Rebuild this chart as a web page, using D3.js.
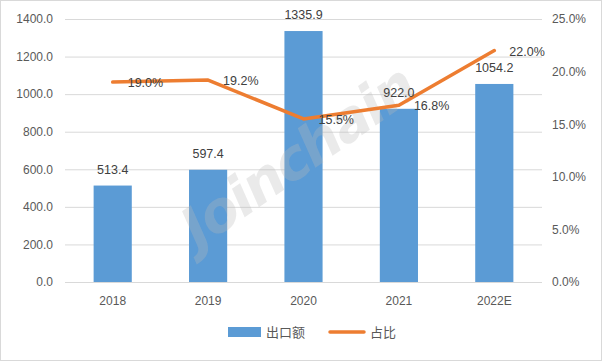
<!DOCTYPE html>
<html><head><meta charset="utf-8">
<script src="https://cdn.jsdelivr.net/npm/d3@7"></script>
<style>body{margin:0;background:#fff}svg{display:block}</style>
</head><body>
<script>
const categories = ["2018","2019","2020","2021","2022E"];
const exportValues = [513.4, 597.4, 1335.9, 922.0, 1054.2];
const shareValues = [19.0, 19.2, 15.5, 16.8, 22.0];
const leftTicks = [0,200,400,600,800,1000,1200,1400];
const rightTicks = [0,5,10,15,20,25];
const seriesNames = ["出口额","占比"];

const W=602,H=361;
const m={l:65,r:60,t:19,b:79};
const svg=d3.select("body").append("svg").attr("width",W).attr("height",H);
const font="'Liberation Sans', 'Noto Sans CJK SC', sans-serif";
svg.append("rect").attr("x",0.5).attr("y",0.5).attr("width",W-1).attr("height",H-1).attr("fill","#fff").attr("stroke","#D9D9D9");

const x=d3.scaleBand().domain(categories).range([m.l,W-m.r]).paddingInner(0.6).paddingOuter(0.3);
const y=d3.scaleLinear().domain([0,1400]).range([H-m.b,m.t]);
const y2=d3.scaleLinear().domain([0,25]).range([H-m.b,m.t]);

// gridlines
svg.append("g").selectAll("line").data(leftTicks).join("line")
  .attr("x1",m.l).attr("x2",W-m.r).attr("y1",d=>y(d)+0.5).attr("y2",d=>y(d)+0.5)
  .attr("stroke","#D9D9D9").attr("stroke-width",1);

// bars
svg.append("g").selectAll("rect").data(exportValues).join("rect")
  .attr("x",(d,i)=>x(categories[i])).attr("width",x.bandwidth())
  .attr("y",d=>y(d)).attr("height",d=>y(0)-y(d)).attr("fill","#5B9BD5");

// watermark (over bars)
svg.append("text").attr("transform","translate(300,160) rotate(-35)")
  .attr("text-anchor","middle").attr("dominant-baseline","middle")
  .attr("font-family","'DejaVu Sans', sans-serif").attr("font-weight","bold").attr("font-style","italic")
  .attr("font-size",56).attr("letter-spacing",-2).attr("fill","#B8B8B8").attr("fill-opacity",0.3).text("Joinchain");

// left axis
const la=svg.append("g").attr("transform",`translate(${m.l},0)`)
  .call(d3.axisLeft(y).tickValues(leftTicks).tickFormat(d3.format(".1f")).tickSize(0).tickPadding(12));
la.select(".domain").remove();
la.selectAll("text").attr("font-family",font).attr("font-size",12).attr("fill","#595959");

// right axis
const ra=svg.append("g").attr("transform",`translate(${W-m.r},0)`)
  .call(d3.axisRight(y2).tickValues(rightTicks).tickFormat(d=>d3.format(".1f")(d)+"%").tickSize(0).tickPadding(10));
ra.select(".domain").remove();
ra.selectAll("text").attr("font-family",font).attr("font-size",12).attr("fill","#595959");

// x axis
const xa=svg.append("g").attr("transform",`translate(0,${y(0)})`)
  .call(d3.axisBottom(x).tickSize(0).tickPadding(14));
xa.select(".domain").remove();
xa.selectAll("text").attr("font-family",font).attr("font-size",12).attr("fill","#595959");

// line
const cx=c=>x(c)+x.bandwidth()/2;
svg.append("path").datum(shareValues)
  .attr("d",d3.line().x((d,i)=>cx(categories[i])).y(d=>y2(d)))
  .attr("fill","none").attr("stroke","#ED7D31").attr("stroke-width",3.5).attr("stroke-linejoin","round").attr("stroke-linecap","round");

// bar labels
svg.append("g").selectAll("text").data(exportValues).join("text")
  .attr("x",(d,i)=>cx(categories[i])).attr("y",d=>y(d)-12)
  .attr("text-anchor","middle").attr("font-family",font).attr("font-size",12.5).attr("fill","#404040")
  .text(d=>d3.format(".1f")(d));

// line labels
svg.append("g").selectAll("text").data(shareValues).join("text")
  .attr("x",(d,i)=>cx(categories[i])+15).attr("y",d=>y2(d)+5)
  .attr("font-family",font).attr("font-size",12.5).attr("fill","#404040")
  .text(d=>d3.format(".1f")(d)+"%");

// legend
const lg=svg.append("g");
lg.append("rect").attr("x",228).attr("y",327).attr("width",33).attr("height",10).attr("fill","#5B9BD5");
lg.append("text").attr("x",266).attr("y",337).attr("font-family","'Noto Sans CJK SC', sans-serif").attr("font-size",13).attr("fill","#595959").text(seriesNames[0]);
lg.append("line").attr("x1",330).attr("x2",364).attr("y1",332).attr("y2",332).attr("stroke","#ED7D31").attr("stroke-width",3.5).attr("stroke-linecap","round");
lg.append("text").attr("x",370).attr("y",337).attr("font-family","'Noto Sans CJK SC', sans-serif").attr("font-size",13).attr("fill","#595959").text(seriesNames[1]);
</script>
</body></html>
